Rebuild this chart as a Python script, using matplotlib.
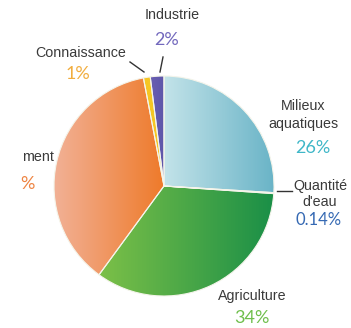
import numpy as np
import matplotlib
matplotlib.use("Agg")
import matplotlib.pyplot as plt
from matplotlib.colors import LinearSegmentedColormap

# Share of each water use (percent), clockwise from the top
labels = ["Milieux\naquatiques", "Quantité\nd'eau", "Agriculture",
          "ment", "Connaissance", "Industrie"]
values = [26, 0.14, 34, 37, 1, 2]
pct_text = ["26%", "0.14%", "34%", "%", "1%", "2%"]

# left (light) / right (dark) colour of each slice gradient
grad_left = ["#c3e3e9", "#3f74b8", "#7cc047", "#f2b196", "#f6c623", "#6a5fb2"]
grad_right = ["#6ab4c7", "#3f74b8", "#1a8f48", "#ee7a2a", "#f6c623", "#5e56aa"]
pct_colors = ["#3fb7c8", "#3569b3", "#6fbf4c", "#ee8442", "#f1ad3e", "#7268bd"]

W, H = 351, 328
fig = plt.figure(figsize=(W / 100, H / 100), dpi=100)
ax = fig.add_axes([0, 0, 1, 1])

cx, cy, r = 164, H - 186, 110
wedges, _ = ax.pie(values, center=(cx, cy), radius=r, startangle=90,
                   counterclock=False,
                   colors=grad_right,
                   wedgeprops=dict(edgecolor="#f4f4ea", linewidth=0.8))

grad = np.linspace(0, 1, 256).reshape(1, -1)
for w, c0, c1 in zip(wedges, grad_left, grad_right):
    bb = w.get_path().get_extents()
    cmap = LinearSegmentedColormap.from_list("g", [c0, c1])
    im = ax.imshow(grad, cmap=cmap, aspect="auto",
                   extent=(bb.x0, bb.x1, bb.y0, bb.y1), zorder=w.get_zorder())
    im.set_clip_path(w)
    w.set_facecolor("none")
    w.set_zorder(w.get_zorder() + 0.1)

name_kw = dict(fontsize=10.3, color="#3a3a3a", family="Liberation Sans",
               ha="center", va="center")
pct_kw = dict(fontsize=13, family="Lato", ha="center", va="center")

# (name x, name y, pct x, pct y, line spacing) in pixel rows from the top
pos = [
    (303, 115, 313, 148, 1.3),
    (320, 194, 319, 220, 1.1),
    (252, 296, 252, 318, 1.3),
    (38, 157, 27, 184, 1.3),
    (81, 53, 78, 74, 1.3),
    (172, 15, 167, 40, 1.3),
]
for i, (nx, ny, px, py, ls) in enumerate(pos):
    ax.text(nx, H - ny, labels[i], linespacing=ls, **name_kw)
    size = 12 if pct_text[i] == "0.14%" else 13
    ax.text(px, H - py, pct_text[i], color=pct_colors[i],
            **dict(pct_kw, fontsize=size))

# leader lines for the thin slices
ax.plot([130, 144], [H - 62, H - 72], color="#333333", lw=1)
ax.plot([163, 160], [H - 57, H - 72], color="#333333", lw=1)
ax.plot([277, 292], [H - 191, H - 191], color="#333333", lw=1)

ax.set_xlim(0, W)
ax.set_ylim(0, H)
ax.set_aspect("equal")
ax.axis("off")
fig.savefig("out.png", dpi=100, facecolor="white")
